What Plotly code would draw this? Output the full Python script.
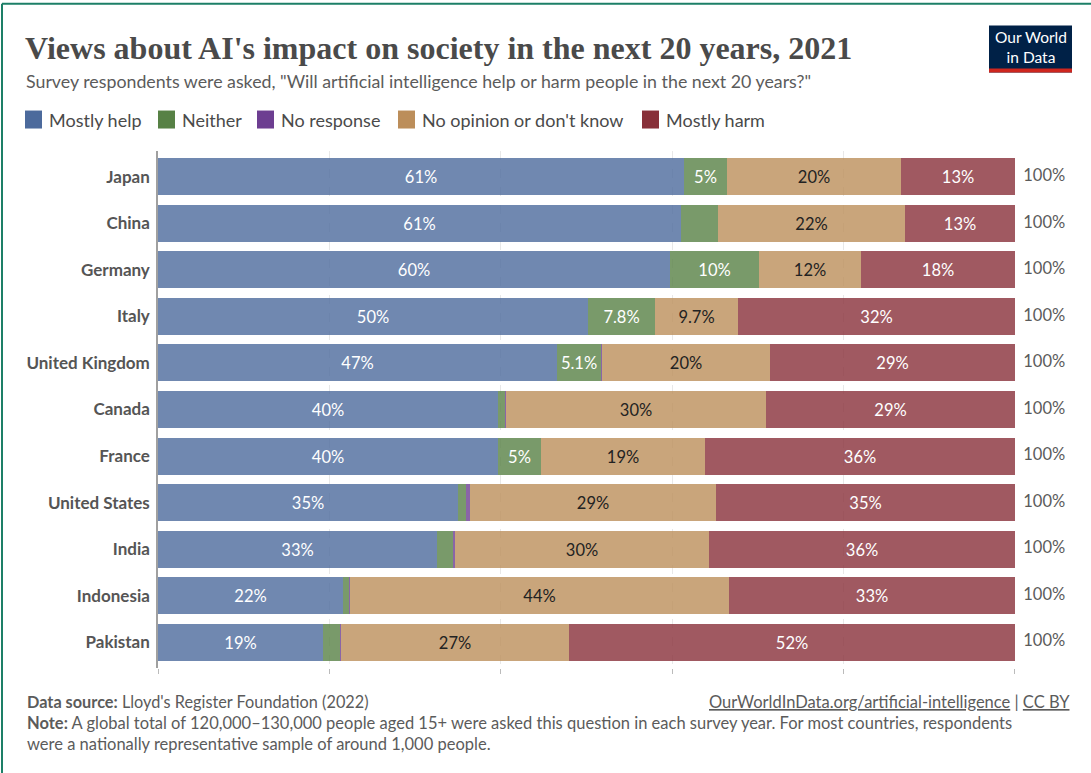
import plotly.graph_objects as go

# Survey shares (% of respondents), by country
countries = ["Japan", "China", "Germany", "Italy", "United Kingdom", "Canada",
             "France", "United States", "India", "Indonesia", "Pakistan"]
mostly_help = [61.4, 61.0, 59.7, 50.2, 46.6, 39.7, 39.7, 35.0, 32.6, 21.6, 19.3]
neither = [5.0, 4.3, 10.4, 7.8, 5.1, 0.8, 5.0, 1.0, 1.8, 0.7, 1.9]
no_response = [0.0, 0.1, 0.0, 0.0, 0.1, 0.1, 0.0, 0.4, 0.3, 0.1, 0.2]
no_opinion = [20.3, 21.8, 11.9, 9.7, 19.6, 30.4, 19.1, 28.7, 29.6, 44.2, 26.6]
mostly_harm = [13.3, 12.8, 18.0, 32.3, 28.6, 29.0, 36.2, 34.9, 35.7, 33.4, 52.0]

series = [
    ("Mostly help", mostly_help, "#4c6a9c", "white"),
    ("Neither", neither, "#578145", "white"),
    ("No response", no_response, "#6d3e91", "white"),
    ("No opinion or don't know", no_opinion, "#bc8e5a", "#222222"),
    ("Mostly harm", mostly_harm, "#883039", "white"),
]

W, H = 1091, 773
L, R, T, B = 158, 1015, 150.5, 668
FONT = "Lato, 'Open Sans', sans-serif"


def px_x(x):
    return (x - L) / (R - L)


def px_y(y):
    return (B - y) / (B - T)


def rgba(hex_color, a):
    h = hex_color.lstrip("#")
    r, g, b = (int(h[i:i + 2], 16) for i in (0, 2, 4))
    return f"rgba({r},{g},{b},{a})"


def label(v):
    return f"{v:.2g}%" if v >= 4.5 else ""


fig = go.Figure()
for name, vals, color, tcolor in series:
    fig.add_trace(go.Bar(
        y=countries, x=vals, name=name, orientation="h",
        marker=dict(color=rgba(color, 0.8), line=dict(width=0)),
        width=0.795,
        text=[label(v) for v in vals],
        textposition="inside", insidetextanchor="middle", textangle=0,
        insidetextfont=dict(family=FONT, size=16.5, color=tcolor),
        hoverinfo="skip", showlegend=False,
    ))

# Row totals to the right of the bars
totals = [round(a + b + c + d + e) for a, b, c, d, e in
          zip(mostly_help, neither, no_response, no_opinion, mostly_harm)]
fig.add_trace(go.Scatter(
    y=countries, x=[100] * len(countries), mode="text",
    text=[f"  {t}%" for t in totals], textposition="middle right",
    textfont=dict(family=FONT, size=16.5, color="#5b5b5b"),
    hoverinfo="skip", showlegend=False, cliponaxis=False,
))

shapes = []
annotations = []

# Legend row
legend_x = [25, 158, 257, 398, 642]
for (name, _, color, _), x0 in zip(series, legend_x):
    shapes.append(dict(type="rect", xref="paper", yref="paper",
                       x0=px_x(x0), x1=px_x(x0 + 17), y0=px_y(128), y1=px_y(110),
                       fillcolor=color, line=dict(width=0)))
    annotations.append(dict(xref="paper", yref="paper", x=px_x(x0 + 22), y=px_y(119),
                            text=name, showarrow=False, xanchor="left", yanchor="middle",
                            font=dict(family=FONT, size=18, color="#4a4a4a")))

# Title and subtitle
annotations.append(dict(xref="paper", yref="paper", x=px_x(23), y=px_y(47),
                        text="<b>Views about AI's impact on society in the next 20 years, 2021</b>",
                        showarrow=False, xanchor="left", yanchor="middle",
                        font=dict(family="'Liberation Serif', 'DejaVu Serif', serif",
                                  size=32, color="#4a4a4a")))
annotations.append(dict(xref="paper", yref="paper", x=px_x(24), y=px_y(80),
                        text='Survey respondents were asked, "Will artificial intelligence help or harm people in the next 20 years?"',
                        showarrow=False, xanchor="left", yanchor="middle",
                        font=dict(family=FONT, size=17.8, color="#5b5b5b")))

# Logo box
shapes.append(dict(type="rect", xref="paper", yref="paper",
                   x0=px_x(989), x1=px_x(1072), y0=px_y(72), y1=px_y(25),
                   fillcolor="#002147", line=dict(width=0)))
shapes.append(dict(type="rect", xref="paper", yref="paper",
                   x0=px_x(989), x1=px_x(1072), y0=px_y(72), y1=px_y(68),
                   fillcolor="#ce261e", line=dict(width=0)))
annotations.append(dict(xref="paper", yref="paper", x=px_x(1030.5), y=px_y(46),
                        text="Our World<br>in Data", showarrow=False,
                        xanchor="center", yanchor="middle", align="center",
                        font=dict(family=FONT, size=15.5, color="white")))

# Frame edges
shapes.append(dict(type="line", xref="paper", yref="paper",
                   x0=px_x(2), x1=px_x(1091), y0=px_y(3), y1=px_y(3),
                   line=dict(color="#1d7f67", width=2)))
shapes.append(dict(type="line", xref="paper", yref="paper",
                   x0=px_x(2), x1=px_x(2), y0=px_y(3), y1=px_y(773),
                   line=dict(color="#1d7f67", width=2)))

# Footer
annotations.append(dict(xref="paper", yref="paper", x=px_x(25), y=px_y(702),
                        text="<b>Data source:</b> Lloyd's Register Foundation (2022)",
                        showarrow=False, xanchor="left", yanchor="middle",
                        font=dict(family=FONT, size=16.3, color="#5b5b5b")))
annotations.append(dict(xref="paper", yref="paper", x=px_x(1072), y=px_y(702),
                        text="<u>OurWorldInData.org/artificial-intelligence</u> | <u>CC BY</u>",
                        showarrow=False, xanchor="right", yanchor="middle",
                        font=dict(family=FONT, size=16.5, color="#5b5b5b")))
annotations.append(dict(xref="paper", yref="paper", x=px_x(25), y=px_y(734),
                        text="<b>Note:</b> A global total of 120,000–130,000 people aged 15+ were asked this question in each survey year. For most countries, respondents<br>were a nationally representative sample of around 1,000 people.",
                        showarrow=False, xanchor="left", yanchor="middle", align="left",
                        font=dict(family=FONT, size=16.5, color="#5b5b5b")))

fig.update_layout(
    width=W, height=H,
    margin=dict(l=L, r=W - R, t=T, b=H - B, pad=0),
    barmode="stack", bargap=0,
    paper_bgcolor="white", plot_bgcolor="white",
    shapes=shapes, annotations=annotations,
    xaxis=dict(range=[0, 100.02], tickvals=[0, 20, 40, 60, 80, 100], showticklabels=False,
               ticks="outside", ticklen=5, tickcolor="#bbbbbb",
               showgrid=True, gridcolor="rgba(0,0,0,0.09)", griddash="dash", gridwidth=1,
               zeroline=False, showline=False, layer="above traces", fixedrange=True),
    yaxis=dict(categoryorder="array", categoryarray=countries, autorange="reversed",
               showline=True, linecolor="#a0a0a0", linewidth=1.5, ticks="",
               ticklabelstandoff=3,
               tickfont=dict(family=FONT, size=17, color="#555555", weight="bold"),
               showgrid=False, fixedrange=True),
    font=dict(family=FONT),
)

fig.write_html("out.html")
